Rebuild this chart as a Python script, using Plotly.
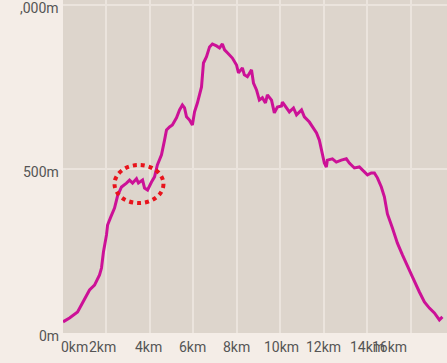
import plotly.graph_objects as go

distance_km = [0.0, 0.30, 0.67, 1.08, 1.22, 1.45, 1.68, 1.77, 1.86, 2.00, 2.05, 2.18, 2.37, 2.51, 2.69,
               2.92, 3.06, 3.20, 3.38, 3.47, 3.66, 3.75, 3.89, 4.07, 4.21, 4.34, 4.53, 4.67, 4.76, 4.90,
               5.03, 5.22, 5.36, 5.49, 5.59, 5.68, 5.82, 5.95, 6.05, 6.18, 6.37, 6.46, 6.60, 6.74, 6.87,
               7.06, 7.20, 7.33, 7.43, 7.56, 7.79, 7.98, 8.07, 8.25, 8.34, 8.48, 8.67, 8.76, 8.90, 9.03,
               9.17, 9.31, 9.40, 9.59, 9.72, 9.86, 10.05, 10.09, 10.23, 10.41, 10.60, 10.74, 10.97, 11.10,
               11.33, 11.47, 11.66, 11.79, 11.93, 12.02, 12.11, 12.16, 12.39, 12.57, 12.80, 13.03, 13.17,
               13.40, 13.63, 13.86, 14.00, 14.18, 14.32, 14.46, 14.64, 14.78, 14.92, 15.15, 15.38, 15.61,
               15.84, 16.07, 16.39, 16.62, 16.85, 17.08, 17.31, 17.45]
elevation_m = [34, 46, 64, 116, 131, 146, 177, 198, 247, 299, 329, 351, 381, 418, 445,
               457, 466, 457, 470, 457, 466, 442, 436, 460, 476, 512, 543, 588, 619, 628,
               634, 656, 680, 695, 686, 659, 649, 634, 674, 701, 750, 823, 842, 872, 881,
               875, 869, 881, 863, 854, 838, 817, 793, 808, 787, 781, 802, 762, 741, 710,
               717, 701, 726, 710, 671, 689, 692, 704, 689, 674, 686, 665, 680, 659,
               643, 628, 610, 588, 549, 518, 506, 527, 531, 521, 527, 531, 518,
               503, 506, 491, 482, 488, 488, 473, 445, 415, 363, 320, 274, 238,
               207, 171, 125, 95, 76, 61, 40, 49]

y_tick_vals = [0, 500, 1000]
y_tick_text = ["0m", "500m", ",000m"]
x_grid_vals = [0, 2, 4, 6, 8, 10, 12, 14, 16]
x_label_text = ["0km", "2km", "4km", "6km", "8km", "10km", "12km", "14km", "16km"]
x_label_pos = [0.55, 1.82, 3.95, 5.95, 7.98, 10.05, 11.98, 14.0, 15.01]

highlight_x = [2.37, 4.62]
highlight_y = [396, 512]

label_font = dict(family="Roboto", size=14, color="#555555")

fig = go.Figure()
fig.add_trace(go.Scatter(
    x=distance_km, y=elevation_m, mode="lines",
    line=dict(color="#cc1197", width=3),
    hoverinfo="skip", showlegend=False,
))

fig.add_shape(type="circle", xref="x", yref="y",
              x0=highlight_x[0], x1=highlight_x[1], y0=highlight_y[0], y1=highlight_y[1],
              line=dict(color="#e8141c", width=4, dash="dot"))

for txt, pos in zip(x_label_text, x_label_pos):
    fig.add_annotation(x=pos, y=0, xref="x", yref="paper", text=txt, showarrow=False,
                       xanchor="center", yanchor="middle", yshift=-14, font=label_font)

for txt, val in zip(y_tick_text, y_tick_vals):
    fig.add_annotation(x=0, y=val, xref="paper", yref="y", text=txt, showarrow=False,
                       xanchor="right", yanchor="middle", xshift=-2, yshift=-3,
                       font=label_font)

fig.update_layout(
    width=447, height=363,
    margin=dict(l=63, r=0, t=0, b=30),
    paper_bgcolor="#f4ede7",
    plot_bgcolor="#ddd5cc",
    font=label_font,
    showlegend=False,
)
fig.update_xaxes(range=[0, 17.66], tickvals=x_grid_vals, showticklabels=False,
                 showgrid=True, gridcolor="#ebe4dd", gridwidth=1.5, zeroline=False,
                 showline=False, ticks="", fixedrange=True)
fig.update_yaxes(range=[0, 1015], tickvals=y_tick_vals, showticklabels=False,
                 showgrid=True, gridcolor="#ebe4dd", gridwidth=1.5, zeroline=False,
                 showline=False, ticks="", fixedrange=True)

fig.write_html("out.html", config={"displayModeBar": False})
